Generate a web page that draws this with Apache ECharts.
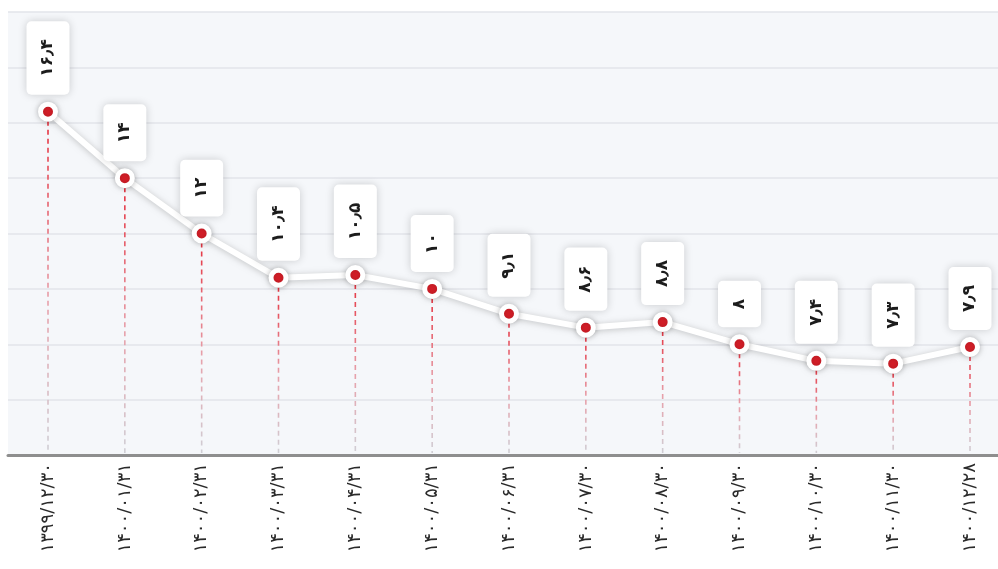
<!DOCTYPE html>
<html>
<head>
<meta charset="utf-8">
<script src="https://cdn.jsdelivr.net/npm/echarts@6/dist/echarts.min.js"></script>
<style>
  html, body { margin: 0; padding: 0; background: #ffffff; }
  #chart { width: 998px; height: 569px; }
</style>
</head>
<body>
<div id="chart"></div>
<script>
// Month-end dates (Solar Hijri) and the rate recorded at each
const categories = [
  '۱۳۹۹/۱۲/۳۰', '۱۴۰۰/۰۱/۳۱', '۱۴۰۰/۰۲/۳۱', '۱۴۰۰/۰۳/۳۱', '۱۴۰۰/۰۴/۳۱',
  '۱۴۰۰/۰۵/۳۱', '۱۴۰۰/۰۶/۳۱', '۱۴۰۰/۰۷/۳۰', '۱۴۰۰/۰۸/۳۰', '۱۴۰۰/۰۹/۳۰',
  '۱۴۰۰/۱۰/۳۰', '۱۴۰۰/۱۱/۳۰', '۱۴۰۰/۱۲/۲۸'
];
const values = [16.4, 14, 12, 10.4, 10.5, 10, 9.1, 8.6, 8.8, 8, 7.4, 7.3, 7.9];

// Value scale shared by the background grid and the plotted line
const yMin = 4;
const yMax = 20;
const yStep = 2;

const FONT = 'DejaVu Sans';
const persianDigits = ['۰', '۱', '۲', '۳', '۴', '۵', '۶', '۷', '۸', '۹'];
function toPersian(v) {
  return String(v).replace(/[0-9]/g, d => persianDigits[+d]).replace('.', '٫');
}

const chart = echarts.init(document.getElementById('chart'), null, { renderer: 'canvas' });

const option = {
  animation: false,
  backgroundColor: '#ffffff',
  grid: [
    // full-width shaded plot area with horizontal rules and the base line
    { left: 8, right: 0, top: 12, bottom: 114, show: true, backgroundColor: '#f5f7fa', borderWidth: 0 },
    // data area
    { left: 48, right: 28, top: 12, bottom: 114 }
  ],
  xAxis: [
    {
      gridIndex: 0, type: 'value', min: 0, max: 1,
      axisLine: { show: true, lineStyle: { color: '#8e8e8e', width: 3 } },
      axisTick: { show: false }, axisLabel: { show: false }, splitLine: { show: false }
    },
    {
      gridIndex: 1, type: 'category', data: categories, boundaryGap: false,
      axisLine: { show: false }, axisTick: { show: false }, splitLine: { show: false },
      axisLabel: {
        rotate: 90, margin: 8, interval: 0,
        fontFamily: FONT, fontSize: 18, color: '#2a2a2a'
      }
    }
  ],
  yAxis: [
    {
      gridIndex: 0, type: 'value', min: yMin, max: yMax, interval: yStep,
      axisLine: { show: false }, axisTick: { show: false }, axisLabel: { show: false },
      splitLine: { show: true, lineStyle: { color: '#e2e5ea', width: 1.5 } }
    },
    {
      gridIndex: 1, type: 'value', min: yMin, max: yMax, interval: yStep, show: false
    }
  ],
  series: [
    {
      // dashed drop lines from each point to the base line
      type: 'custom',
      xAxisIndex: 1, yAxisIndex: 1,
      z: 1,
      silent: true,
      data: values.map((v, i) => [i, v]),
      renderItem: function (params, api) {
        const p = api.coord([api.value(0), api.value(1)]);
        const b = api.coord([api.value(0), yMin]);
        return {
          type: 'line',
          shape: { x1: p[0], y1: p[1], x2: b[0], y2: b[1] - 2 },
          style: {
            stroke: new echarts.graphic.LinearGradient(0, p[1], 0, b[1], [
              { offset: 0, color: '#e52a38' },
              { offset: 0.55, color: '#e7a0aa' },
              { offset: 1, color: '#cfd0d6' }
            ], true),
            lineWidth: 1.6,
            lineDash: [5, 4]
          }
        };
      }
    },
    {
      type: 'line',
      xAxisIndex: 1, yAxisIndex: 1,
      z: 3,
      data: values,
      lineStyle: {
        color: '#ffffff', width: 6,
        shadowColor: 'rgba(0,0,0,0.22)', shadowBlur: 6, shadowOffsetY: 1
      },
      symbol: 'circle',
      symbolSize: 15,
      itemStyle: {
        color: '#e3202a', borderColor: '#ffffff', borderWidth: 5,
        shadowColor: 'rgba(0,0,0,0.25)', shadowBlur: 6
      },
      label: {
        show: true,
        position: 'top',
        distance: 7,
        rotate: 90,
        align: 'left',
        verticalAlign: 'middle',
        formatter: p => toPersian(p.value),
        fontFamily: FONT,
        fontWeight: 'bold',
        fontSize: 17,
        color: '#1c1c1c',
        backgroundColor: '#ffffff',
        borderRadius: 5,
        padding: [13, 18, 13, 18],
        shadowColor: 'rgba(0,0,0,0.18)',
        shadowBlur: 8
      }
    }
  ]
};

chart.setOption(option);
</script>
</body>
</html>
